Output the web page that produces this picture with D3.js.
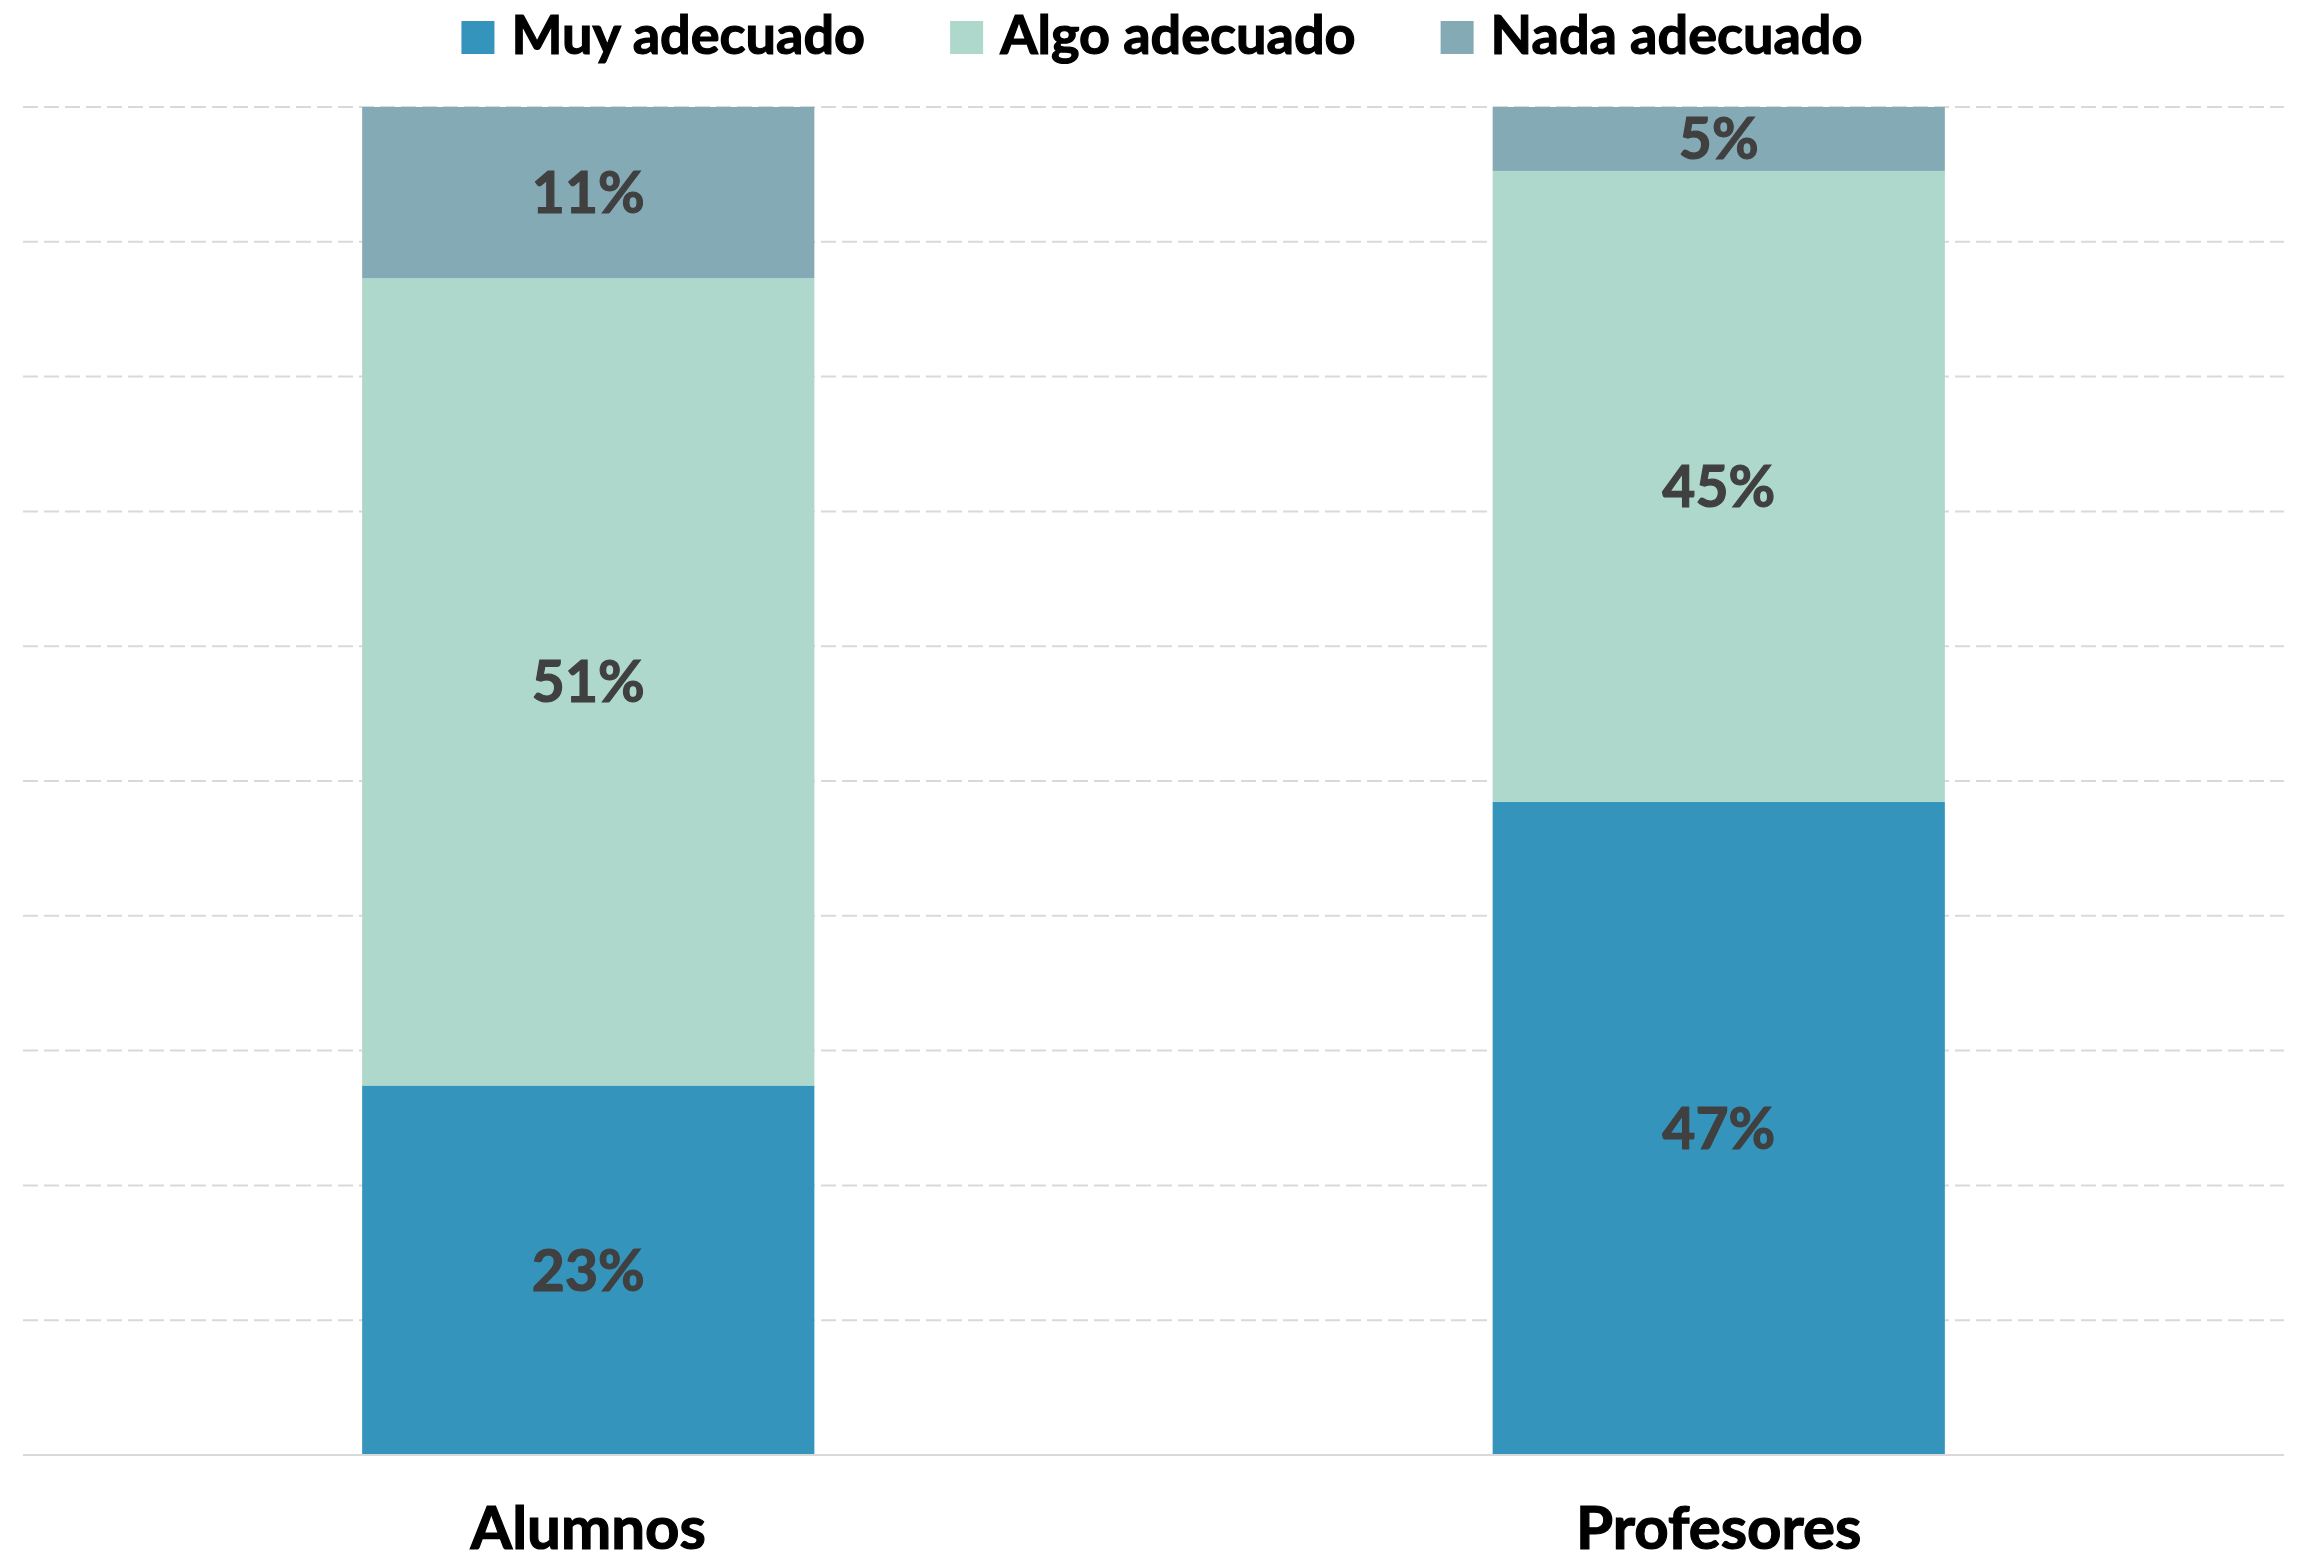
<!DOCTYPE html>
<html>
<head>
<meta charset="utf-8">
<script src="https://cdn.jsdelivr.net/npm/d3@7"></script>
<style>
  html, body { margin: 0; padding: 0; background: #ffffff; }
  svg { display: block; }
</style>
</head>
<body>
<svg id="chart" width="2298" height="1562"></svg>
<script>
// ---- data ----
const categories = ["Alumnos", "Profesores"];
const seriesNames = ["Muy adecuado", "Algo adecuado", "Nada adecuado"];
const muyAdecuado = [23.3, 47.0];
const algoAdecuado = [50.9, 45.4];
const nadaAdecuado = [10.8, 4.6];
const seriesColors = ["#3594bb", "#add8cb", "#84abb5"];

const rows = categories.map((c, i) => ({
  category: c,
  "Muy adecuado": muyAdecuado[i],
  "Algo adecuado": algoAdecuado[i],
  "Nada adecuado": nadaAdecuado[i]
}));

// ---- layout ----
const W = 2298, H = 1562;
const plot = { left: 23, right: 2284, top: 107, bottom: 1455 };
const FONT = "Lato, 'Open Sans', sans-serif";

const svg = d3.select("#chart");
svg.append("rect").attr("width", W).attr("height", H).attr("fill", "#ffffff");

const x = d3.scaleBand()
  .domain(categories)
  .range([plot.left, plot.right])
  .paddingInner(0.6)
  .paddingOuter(0.3);

const y = d3.scaleLinear().domain([0, 1]).range([plot.bottom, plot.top]);

const color = d3.scaleOrdinal().domain(seriesNames).range(seriesColors);

// gridlines
const gridTicks = d3.range(1, 11).map(d => d / 10);
svg.append("g")
  .selectAll("line")
  .data(gridTicks)
  .join("line")
  .attr("x1", plot.left)
  .attr("x2", plot.right)
  .attr("y1", d => y(d))
  .attr("y2", d => y(d))
  .attr("stroke", "#d9d9d9")
  .attr("stroke-width", 2)
  .attr("stroke-dasharray", "15,6");

// stacked bars (100%)
const stacked = d3.stack().keys(seriesNames).offset(d3.stackOffsetExpand)(rows);

const layers = svg.append("g")
  .selectAll("g")
  .data(stacked)
  .join("g")
  .attr("fill", d => color(d.key));

layers.selectAll("rect")
  .data(d => d.map(v => ({ v, key: d.key })))
  .join("rect")
  .attr("x", d => x(d.v.data.category))
  .attr("width", x.bandwidth())
  .attr("y", d => y(d.v[1]))
  .attr("height", d => y(d.v[0]) - y(d.v[1]));

// data labels
const labelG = svg.append("g");
stacked.forEach(layer => {
  layer.forEach(v => {
    const val = v.data[layer.key];
    labelG.append("text")
      .attr("x", x(v.data.category) + x.bandwidth() / 2)
      .attr("y", (y(v[0]) + y(v[1])) / 2)
      .attr("dy", "0.36em")
      .attr("text-anchor", "middle")
      .attr("font-family", FONT)
      .attr("font-weight", 700)
      .attr("font-size", 57)
      .attr("fill", "#404040")
      .attr("stroke", "#404040")
      .attr("stroke-width", 1.2)
      .text(d3.format(".0f")(val) + "%");
  });
});

// x axis line
svg.append("line")
  .attr("x1", plot.left).attr("x2", plot.right)
  .attr("y1", plot.bottom).attr("y2", plot.bottom)
  .attr("stroke", "#d9d9d9").attr("stroke-width", 2);

// category labels
svg.append("g")
  .selectAll("text")
  .data(categories)
  .join("text")
  .attr("x", d => x(d) + x.bandwidth() / 2)
  .attr("y", 1549)
  .attr("text-anchor", "middle")
  .attr("font-family", FONT)
  .attr("font-weight", 700)
  .attr("font-size", 60)
  .attr("fill", "#000000")
  .attr("stroke", "#000000")
  .attr("stroke-width", 1.2)
  .text(d => d);

// legend
const legend = svg.append("g");
const sq = 33, gapSqText = 17, gapItems = 85;
const items = seriesNames.map(name => {
  const g = legend.append("g");
  g.append("rect").attr("width", sq).attr("height", sq).attr("y", 21).attr("fill", color(name));
  const t = g.append("text")
    .attr("x", sq + gapSqText)
    .attr("y", 54)
    .attr("font-family", FONT)
    .attr("font-weight", 700)
    .attr("font-size", 54)
    .attr("fill", "#000000")
    .attr("stroke", "#000000")
    .attr("stroke-width", 1.2)
    .text(name);
  return { g, w: sq + gapSqText + t.node().getComputedTextLength() };
});
const totalW = d3.sum(items, d => d.w) + gapItems * (items.length - 1);
let cx = 1162 - totalW / 2;
items.forEach(it => {
  it.g.attr("transform", `translate(${cx},0)`);
  cx += it.w + gapItems;
});
</script>
</body>
</html>
